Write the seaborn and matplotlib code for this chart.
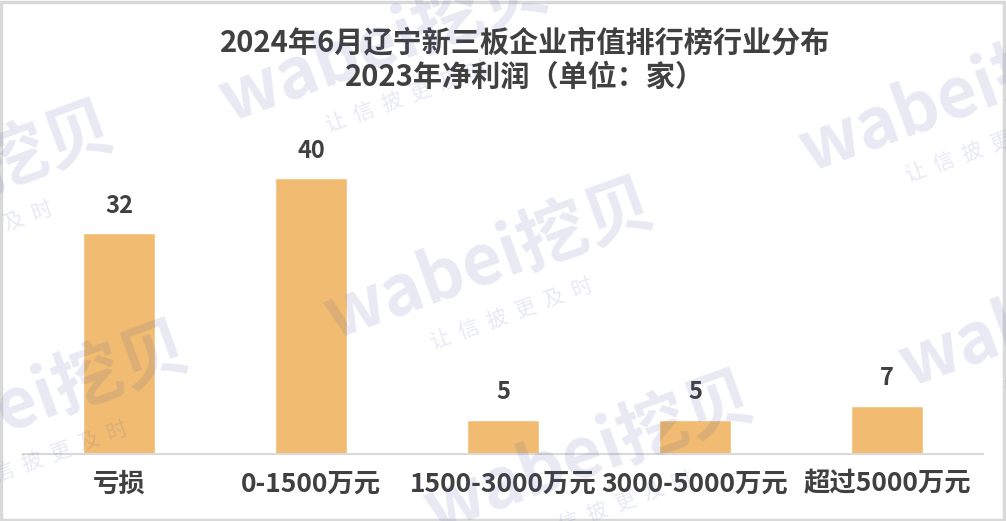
import matplotlib
matplotlib.use("Agg")
import matplotlib.pyplot as plt
import seaborn as sns
import pandas as pd
from matplotlib.patches import Rectangle

# ==========================================
# Data
# ==========================================
categories = ["亏损", "0-1500万元", "1500-3000万元", "3000-5000万元", "超过5000万元"]
counts = [32, 40, 5, 5, 7]

title_text = "2024年6月辽宁新三板企业市值排行榜行业分布\n2023年净利润（单位：家）"

df = pd.DataFrame({"category": categories, "count": counts})

# ==========================================
# Style
# ==========================================
sns.set_theme(style="white")
plt.rcParams["font.family"] = ["Noto Sans CJK SC", "DejaVu Sans"]

BAR_COLOR = "#F1BC71"
TEXT_COLOR = "#404040"
GRID_GRAY = "#D9D9D9"

fig = plt.figure(figsize=(10.06, 5.21), dpi=100)
ax = fig.add_axes([23 / 1006, 67 / 521, 960 / 1006, 338 / 521])

sns.barplot(data=df, x="category", y="count", color=BAR_COLOR,
            width=0.38, saturation=1, ax=ax)

ax.set_xlim(-0.5, len(categories) - 0.5)
ax.set_ylim(0, 49)
ax.bar_label(ax.containers[0], padding=11, fontsize=17, fontweight="bold",
             color=TEXT_COLOR)

ax.set_xlabel("")
ax.set_ylabel("")
ax.set_yticks([])
ax.tick_params(axis="x", length=0, pad=12, labelsize=19, labelcolor=TEXT_COLOR)
for lbl in ax.get_xticklabels():
    lbl.set_fontweight("bold")

for side in ["top", "right", "left"]:
    ax.spines[side].set_visible(False)
ax.spines["bottom"].set_color(GRID_GRAY)
ax.spines["bottom"].set_linewidth(1.5)

fig.text(0.522, 1 - 60 / 521, title_text, ha="center", va="center",
         fontsize=21, fontweight="bold", color=TEXT_COLOR, linespacing=1.2)

# ==========================================
# Watermarks (light, rotated)
# ==========================================
wm_spots = [(385, 45), (965, 95), (-50, 185), (490, 262),
            (1065, 310), (25, 405), (590, 455)]
for px, py in wm_spots:
    fig.text(px / 1006, 1 - py / 521, "wabei挖贝", ha="center", va="center",
             rotation=20, fontsize=50, fontweight="bold", color="#3C4BA0",
             alpha=0.12, zorder=10, rotation_mode="anchor")
    fig.text((px + 22) / 1006, 1 - (py + 52) / 521, "让  信  披  更  及  时",
             ha="center", va="center", rotation=20, fontsize=15,
             color="#3C4BA0", alpha=0.12, zorder=10, rotation_mode="anchor")

# figure border
fig.patches.append(Rectangle((0.001, 0.002), 0.997, 0.995, transform=fig.transFigure,
                             fill=False, edgecolor=GRID_GRAY, linewidth=2.5))

fig.savefig("out.png", dpi=100)
